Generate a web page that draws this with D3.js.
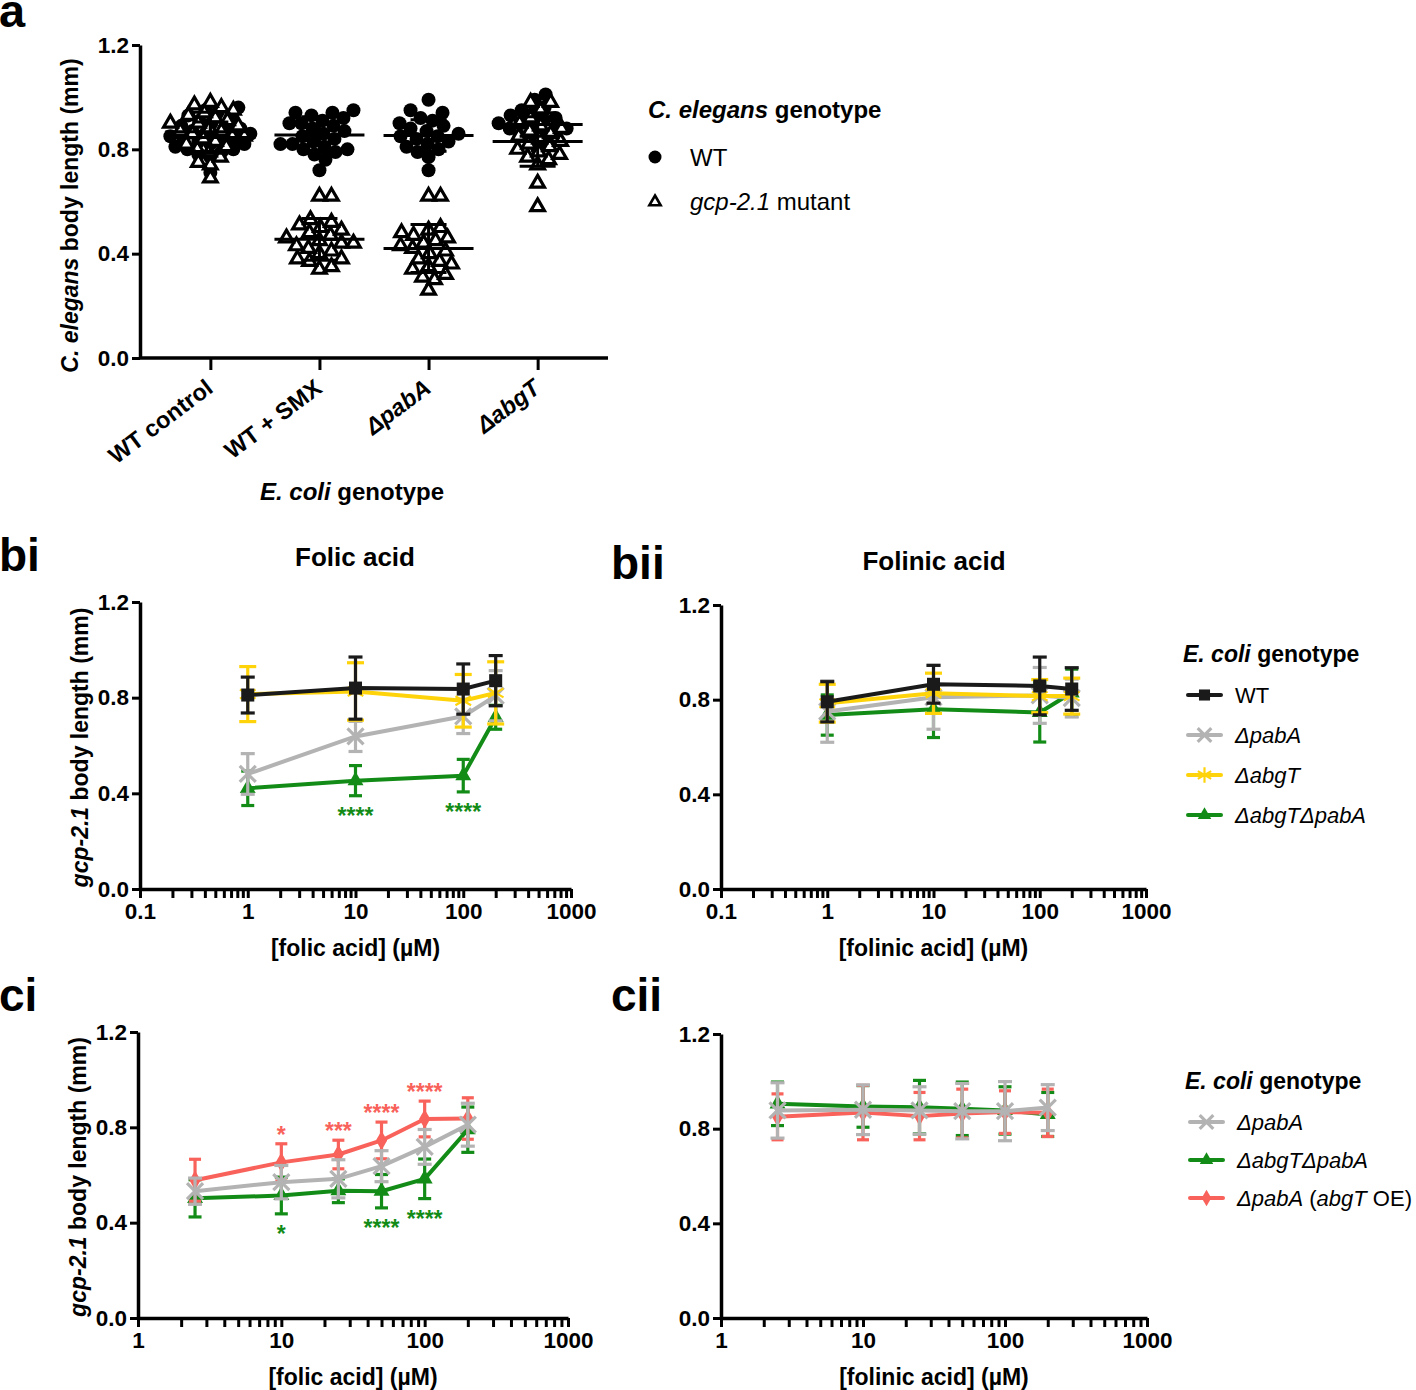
<!DOCTYPE html>
<html><head><meta charset="utf-8">
<script src="https://cdn.jsdelivr.net/npm/d3@7"></script>
<style>
body{margin:0;background:#fff}
svg{display:block;font-family:"Liberation Sans",Arial,Helvetica,sans-serif}
</style>
</head><body>
<svg id="fig" width="1416" height="1390"></svg>
<script>
// ================= DATA =================
// Panel a
const aCategories = ["WT control", "WT + SMX", "ΔpabA", "ΔabgT"];
const aCategoryLabels = ["WT control", "WT + SMX", "<i>ΔpabA</i>", "<i>ΔabgT</i>"];
const aYTicks = [0, 0.4, 0.8, 1.2];
const aWTControlWT  = [0.71,0.77,0.78,0.79,0.80,0.80,0.81,0.82,0.82,0.83,0.83,0.84,0.84,0.85,0.85,0.86,0.86,0.87,0.88,0.88,0.89,0.90,0.91,0.92,0.93,0.94,0.95,0.96];
const aWTControlMut = [0.69,0.74,0.75,0.77,0.79,0.80,0.81,0.82,0.83,0.84,0.85,0.85,0.86,0.87,0.87,0.88,0.89,0.90,0.90,0.91,0.92,0.93,0.94,0.95,0.96,0.97,0.98];
const aSMXWT  = [0.72,0.76,0.78,0.79,0.80,0.80,0.81,0.82,0.82,0.83,0.84,0.85,0.86,0.87,0.88,0.89,0.90,0.90,0.91,0.92,0.93,0.94,0.94,0.95];
const aSMXMut = [0.34,0.35,0.37,0.38,0.38,0.40,0.41,0.42,0.43,0.44,0.44,0.45,0.46,0.47,0.48,0.49,0.50,0.51,0.52,0.53,0.62,0.62];
const aPabAWT  = [0.72,0.77,0.79,0.80,0.81,0.82,0.83,0.84,0.85,0.85,0.86,0.87,0.88,0.89,0.90,0.91,0.92,0.94,0.95,0.99];
const aPabAMut = [0.26,0.30,0.31,0.32,0.34,0.35,0.36,0.37,0.38,0.40,0.41,0.42,0.43,0.44,0.45,0.46,0.47,0.48,0.49,0.50,0.62,0.62];
const aAbgTWT  = [0.80,0.82,0.84,0.85,0.86,0.87,0.88,0.88,0.89,0.90,0.90,0.91,0.92,0.93,0.94,0.95,0.96,0.99,1.01];
const aAbgTMut = [0.58,0.67,0.74,0.76,0.77,0.78,0.79,0.80,0.81,0.82,0.83,0.84,0.85,0.86,0.87,0.88,0.89,0.90,0.92,0.95,0.98,0.98];
const aWTMean  = [0.845, 0.855, 0.853, 0.895];
const aWTSD    = [0.060, 0.070, 0.060, 0.045];
const aMutMean = [0.867, 0.455, 0.420, 0.830];
const aMutSD   = [0.075, 0.080, 0.092, 0.095];

// Panel b (folic / folinic acid)
const bConc = [1, 10, 100, 200];
const bXTicks = [0.1, 1, 10, 100, 1000];
const bXTickLabels = ["0.1", "1", "10", "100", "1000"];
const biWT = [0.811, 0.840, 0.836, 0.871],      biWTsd = [0.075, 0.130, 0.105, 0.105];
const biPabA = [0.481, 0.638, 0.722, 0.808],    biPabAsd = [0.085, 0.063, 0.072, 0.105];
const biAbgT = [0.815, 0.826, 0.787, 0.820],    biAbgTsd = [0.115, 0.120, 0.110, 0.130];
const biDouble = [0.421, 0.453, 0.474, 0.718],  biDoublesd = [0.072, 0.063, 0.068, 0.050];
const biiWT = [0.791, 0.865, 0.858, 0.845],     biiWTsd = [0.085, 0.080, 0.122, 0.090];
const biiPabA = [0.750, 0.810, 0.818, 0.807],   biiPabAsd = [0.130, 0.135, 0.118, 0.080];
const biiAbgT = [0.785, 0.827, 0.815, 0.815],   biiAbgTsd = [0.080, 0.085, 0.070, 0.076];
const biiDouble = [0.735, 0.760, 0.746, 0.829], biiDoublesd = [0.085, 0.120, 0.125, 0.100];
const biStars = [
  {series: "ΔabgTΔpabA", conc: 10, label: "****", side: "below"},
  {series: "ΔabgTΔpabA", conc: 100, label: "****", side: "below"}
];

// Panel c
const cConc = [2.5, 10, 25, 50, 100, 200];
const cXTicks = [1, 10, 100, 1000];
const cXTickLabels = ["1", "10", "100", "1000"];
const ciPabA = [0.532, 0.570, 0.584, 0.637, 0.718, 0.811],   ciPabAsd = [0.055, 0.070, 0.080, 0.065, 0.073, 0.090];
const ciDouble = [0.502, 0.514, 0.534, 0.532, 0.584, 0.790], ciDoublesd = [0.078, 0.077, 0.050, 0.070, 0.083, 0.095];
const ciOE = [0.578, 0.653, 0.686, 0.745, 0.835, 0.837],     ciOEsd = [0.088, 0.078, 0.060, 0.077, 0.075, 0.087];
const ciiPabA = [0.877, 0.880, 0.877, 0.874, 0.874, 0.889],   ciiPabAsd = [0.117, 0.105, 0.100, 0.117, 0.125, 0.097];
const ciiDouble = [0.905, 0.894, 0.891, 0.884, 0.877, 0.860], ciiDoublesd = [0.092, 0.088, 0.113, 0.113, 0.100, 0.093];
const ciiOE = [0.850, 0.868, 0.853, 0.864, 0.870, 0.867],     ciiOEsd = [0.097, 0.115, 0.100, 0.103, 0.090, 0.100];
const ciStars = [
  {series: "ΔpabA (abgT OE)", conc: 10, label: "*", side: "above"},
  {series: "ΔpabA (abgT OE)", conc: 25, label: "***", side: "above"},
  {series: "ΔpabA (abgT OE)", conc: 50, label: "****", side: "above"},
  {series: "ΔpabA (abgT OE)", conc: 100, label: "****", side: "above"},
  {series: "ΔabgTΔpabA", conc: 10, label: "*", side: "below"},
  {series: "ΔabgTΔpabA", conc: 50, label: "****", side: "below"},
  {series: "ΔabgTΔpabA", conc: 100, label: "****", side: "below"}
];
const lineYTicks = [0, 0.4, 0.8, 1.2];
const bLegend = ["WT", "ΔpabA", "ΔabgT", "ΔabgTΔpabA"];
const cLegend = ["ΔpabA", "ΔabgTΔpabA", "ΔpabA (abgT OE)"];
const legendLabels = {"WT": "WT", "ΔpabA": "<i>ΔpabA</i>", "ΔabgT": "<i>ΔabgT</i>",
  "ΔabgTΔpabA": "<i>ΔabgTΔpabA</i>", "ΔpabA (abgT OE)": "<i>ΔpabA</i> (<i>abgT</i> OE)"};

// ================= STYLE =================
const styles = {
  "WT":              {color: "#1a1a1a", symbol: "square",   cap: 7},
  "ΔpabA":           {color: "#b3b3b3", symbol: "times",    cap: 7},
  "ΔabgT":           {color: "#ffd30a", symbol: "asterisk", cap: 8.5},
  "ΔabgTΔpabA":      {color: "#138c17", symbol: "triangle", cap: 6.5},
  "ΔpabA (abgT OE)": {color: "#f8625a", symbol: "diamond",  cap: 6}
};
const FONT = '"Liberation Sans", Arial, Helvetica, sans-serif';
const TICK_FS = 22.5;
const svg = d3.select("#fig");

function rich(sel, str) {
  str.split(/(<i>.*?<\/i>)/).forEach(p => {
    if (!p) return;
    const it = p.startsWith("<i>");
    sel.append("tspan").attr("font-style", it ? "italic" : null).text(it ? p.slice(3, -4) : p);
  });
  return sel;
}

function styleAxis(g, fs) {
  g.selectAll("path.domain").attr("stroke", "#000").attr("stroke-width", 3.5);
  g.selectAll(".tick line").attr("stroke", "#000").attr("stroke-width", 3);
  g.selectAll(".tick text").attr("font-size", fs).attr("font-weight", "bold")
    .attr("fill", "#000").attr("font-family", FONT);
}

function drawSymbol(g, type, color, cx, cy, k = 1) {
  let s;
  if (type === "square") {
    s = g.append("path").attr("d", d3.symbol(d3.symbolSquare, 170 * k * k)()).attr("fill", color);
  } else if (type === "triangle") {
    s = g.append("path").attr("d", d3.symbol(d3.symbolTriangle, 110 * k * k)()).attr("fill", color);
  } else if (type === "diamond") {
    s = g.append("path").attr("d", d3.symbol(d3.symbolDiamond, 110 * k * k)()).attr("fill", color);
  } else if (type === "times") {
    const sym = d3.symbolTimes || d3.symbolX;
    s = g.append("path").attr("d", d3.symbol(sym, 170 * k * k)()).attr("fill", "none")
      .attr("stroke", color).attr("stroke-width", 3.2);
  } else if (type === "asterisk") {
    s = g.append("path").attr("d", d3.symbol(d3.symbolAsterisk, 230 * k * k)()).attr("fill", "none")
      .attr("stroke", color).attr("stroke-width", 2.2);
  }
  s.attr("transform", `translate(${cx},${cy})`);
}

// ================= PANEL A =================
(function panelA() {
  const box = {left: 140, right: 608, top: 45, bottom: 358};
  const g = svg.append("g");
  const x = d3.scalePoint().domain(aCategories).range([box.left, box.right]).padding(0.645);
  const y = d3.scaleLinear().domain([0, 1.2]).range([box.bottom, box.top]);

  g.append("g").attr("transform", `translate(${box.left},0)`)
    .call(d3.axisLeft(y).tickValues(aYTicks).tickFormat(d3.format(".1f")).tickSize(8).tickSizeOuter(0).tickPadding(3))
    .call(styleAxis, TICK_FS);
  const xa = g.append("g").attr("transform", `translate(0,${box.bottom})`)
    .call(d3.axisBottom(x).tickSize(12).tickSizeOuter(0).tickFormat(""));
  styleAxis(xa, TICK_FS);
  xa.select("path.domain").attr("d", `M${box.left},0H${box.right}`);

  aCategories.forEach((c, i) => {
    const t = g.append("text").attr("text-anchor", "end").attr("font-size", 23.5).attr("font-weight", "bold")
      .attr("transform", `translate(${x(c) + 4},${box.bottom + 33}) rotate(-37)`);
    rich(t, aCategoryLabels[i]);
  });

  function swarm(vals, d, maxHalf) {
    const idx = vals.map((v, i) => i).sort((a, b) => vals[a] - vals[b]);
    const placed = [], out = new Array(vals.length);
    idx.forEach(i => {
      const yy = y(vals[i]);
      let best = 0, bestScore = -Infinity, done = false;
      for (let s = 0; s <= maxHalf && !done; s += 1) {
        for (const sign of (s === 0 ? [1] : (i % 2 ? [1, -1] : [-1, 1]))) {
          const xx = s * sign;
          let minD = Infinity;
          for (const p of placed) { const dd = Math.hypot(p.x - xx, p.y - yy); if (dd < minD) minD = dd; }
          if (minD >= d) { best = xx; done = true; break; }
          if (minD > bestScore) { bestScore = minD; best = xx; }
        }
      }
      placed.push({x: best, y: yy}); out[i] = best;
    });
    return out;
  }

  const wtGroups = [aWTControlWT, aSMXWT, aPabAWT, aAbgTWT];
  const mutGroups = [aWTControlMut, aSMXMut, aPabAMut, aAbgTMut];
  wtGroups.forEach((vals, i) => {
    const off = swarm(vals, 12, 40);
    g.append("g").selectAll("circle").data(vals).join("circle")
      .attr("cx", (d, j) => x(aCategories[i]) + off[j]).attr("cy", d => y(d)).attr("r", 7).attr("fill", "#000");
  });
  mutGroups.forEach((vals, i) => {
    const off = swarm(vals, 12, 40);
    const gg = g.append("g");
    vals.forEach((v, j) => {
      gg.append("path").attr("d", d3.symbol(d3.symbolTriangle, 80)())
        .attr("transform", `translate(${x(aCategories[i]) + off[j]},${y(v)})`)
        .attr("fill", "#fff").attr("stroke", "#000").attr("stroke-width", 3.2);
    });
  });
  // mean ± SD
  function meanSD(means, sds) {
    const gg = g.append("g").attr("stroke", "#000").attr("stroke-width", 3);
    aCategories.forEach((c, i) => {
      const cx = x(c);
      gg.append("line").attr("x1", cx - 45).attr("x2", cx + 45).attr("y1", y(means[i])).attr("y2", y(means[i]));
      gg.append("line").attr("x1", cx).attr("x2", cx).attr("y1", y(means[i] - sds[i])).attr("y2", y(means[i] + sds[i]));
      [means[i] - sds[i], means[i] + sds[i]].forEach(v =>
        gg.append("line").attr("x1", cx - 18).attr("x2", cx + 18).attr("y1", y(v)).attr("y2", y(v)));
    });
  }
  meanSD(aWTMean, aWTSD);
  meanSD(aMutMean, aMutSD);

  // titles
  rich(g.append("text").attr("font-size", 23).attr("font-weight", "bold").attr("text-anchor", "middle")
    .attr("transform", `translate(${box.left - 70},${(box.top + box.bottom) / 2 + 14}) rotate(-90)`)
    .attr("dominant-baseline", "central"), "<i>C. elegans</i> body length (mm)");
  rich(g.append("text").attr("font-size", 24).attr("font-weight", "bold").attr("text-anchor", "middle")
    .attr("x", 352).attr("y", 500), "<i>E. coli</i> genotype");
  g.append("text").attr("x", -1).attr("y", 27).attr("font-size", 47).attr("font-weight", "bold").text("a");

  // legend
  const lg = g.append("g");
  rich(lg.append("text").attr("x", 648).attr("y", 118).attr("font-size", 24).attr("font-weight", "bold"),
    "<i>C. elegans</i> genotype");
  lg.append("circle").attr("cx", 655).attr("cy", 157).attr("r", 6.5).attr("fill", "#000");
  lg.append("text").attr("x", 690).attr("y", 157).attr("dominant-baseline", "central").attr("font-size", 24).text("WT");
  lg.append("path").attr("d", d3.symbol(d3.symbolTriangle, 55)()).attr("transform", "translate(655,202)")
    .attr("fill", "#fff").attr("stroke", "#000").attr("stroke-width", 2.6);
  rich(lg.append("text").attr("x", 690).attr("y", 201).attr("dominant-baseline", "central").attr("font-size", 24),
    "<i>gcp-2.1</i> mutant");
})();

// ================= LINE PANELS =================
function linePanel(o) {
  const g = svg.append("g");
  const x = d3.scaleLog().domain(o.xDomain).range([o.left, o.right]);
  const y = d3.scaleLinear().domain([0, 1.2]).range([o.bottom, o.top]);
  const e0 = Math.round(Math.log10(o.xDomain[0])), e1 = Math.round(Math.log10(o.xDomain[1]));
  const allTicks = [];
  for (let e = e0; e < e1; e++) for (let k = 1; k < 10; k++) allTicks.push(k * Math.pow(10, e));
  allTicks.push(o.xDomain[1]);
  const fmt = d => {
    const i = o.xTicks.findIndex(v => Math.abs(v - d) < 1e-6 * v);
    return i >= 0 ? o.xTickLabels[i] : "";
  };
  g.append("g").attr("transform", `translate(0,${o.bottom})`)
    .call(d3.axisBottom(x).tickValues(allTicks).tickFormat(fmt).tickSize(9).tickSizeOuter(0).tickPadding(5))
    .call(styleAxis, TICK_FS);
  g.append("g").attr("transform", `translate(${o.left},0)`)
    .call(d3.axisLeft(y).tickValues(lineYTicks).tickFormat(d3.format(".1f")).tickSize(8).tickSizeOuter(0).tickPadding(3))
    .call(styleAxis, TICK_FS);

  const ptsOf = {};
  o.series.forEach(s => {
    const st = styles[s.name];
    const pts = o.conc.map((c, i) => ({c, m: s.mean[i], s: s.sd[i]}));
    ptsOf[s.name] = pts;
    const sg = g.append("g");
    const eb = sg.append("g").attr("stroke", st.color).attr("stroke-width", 3.2);
    pts.forEach(p => {
      const cx = x(p.c);
      eb.append("line").attr("x1", cx).attr("x2", cx).attr("y1", y(p.m - p.s)).attr("y2", y(p.m + p.s));
      [p.m - p.s, p.m + p.s].forEach(v =>
        eb.append("line").attr("x1", cx - st.cap).attr("x2", cx + st.cap).attr("y1", y(v)).attr("y2", y(v)));
    });
    sg.append("path").datum(pts).attr("fill", "none").attr("stroke", st.color).attr("stroke-width", 4)
      .attr("stroke-linejoin", "round")
      .attr("d", d3.line().x(d => x(d.c)).y(d => y(d.m)));
    pts.forEach(p => drawSymbol(sg, st.symbol, st.color, x(p.c), y(p.m)));
  });

  (o.stars || []).forEach(st => {
    const p = ptsOf[st.series].find(q => q.c === st.conc);
    const cy = st.side === "above" ? y(p.m + p.s) - 14 : y(p.m - p.s) + 15;
    g.append("text").attr("x", x(p.c)).attr("y", cy + 13).attr("text-anchor", "middle")
      .attr("font-size", 23).attr("font-weight", "bold").attr("fill", styles[st.series].color).text(st.label);
  });

  rich(g.append("text").attr("x", (o.left + o.right) / 2).attr("y", o.bottom + 67).attr("text-anchor", "middle")
    .attr("font-size", 23).attr("font-weight", "bold"), o.xTitle);
  if (o.yTitle) {
    rich(g.append("text").attr("font-size", 23).attr("font-weight", "bold").attr("text-anchor", "middle")
      .attr("dominant-baseline", "central")
      .attr("transform", `translate(${o.left - 60},${(o.top + o.bottom) / 2 + 2}) rotate(-90)`), o.yTitle);
  }
  if (o.title) {
    g.append("text").attr("x", o.titleX).attr("y", o.titleY).attr("text-anchor", "middle")
      .attr("font-size", 26).attr("font-weight", "bold").text(o.title);
  }
  g.append("text").attr("x", o.letterX).attr("y", o.letterY).attr("font-size", 46).attr("font-weight", "bold").text(o.letter);
}

function legend(x0, y0, titleY, names, step) {
  const g = svg.append("g");
  rich(g.append("text").attr("x", x0 - 2).attr("y", titleY).attr("font-size", 23).attr("font-weight", "bold"),
    "<i>E. coli</i> genotype");
  names.forEach((n, i) => {
    const st = styles[n], yy = y0 + i * step;
    g.append("line").attr("x1", x0 + 3).attr("x2", x0 + 36).attr("y1", yy).attr("y2", yy)
      .attr("stroke", st.color).attr("stroke-width", 4).attr("stroke-linecap", "round");
    drawSymbol(g, st.symbol, st.color, x0 + 19.5, yy, 0.85);
    rich(g.append("text").attr("x", x0 + 50).attr("y", yy).attr("dominant-baseline", "central")
      .attr("font-size", 22), legendLabels[n]);
  });
}

const bOrder = (wt, wtsd, pa, pasd, ab, absd, db, dbsd) => [
  {name: "ΔabgTΔpabA", mean: db, sd: dbsd},
  {name: "ΔpabA", mean: pa, sd: pasd},
  {name: "ΔabgT", mean: ab, sd: absd},
  {name: "WT", mean: wt, sd: wtsd}
];

linePanel({left: 140, right: 571, top: 602, bottom: 889, xDomain: [0.1, 1000], xTicks: bXTicks, xTickLabels: bXTickLabels,
  conc: bConc, series: bOrder(biWT, biWTsd, biPabA, biPabAsd, biAbgT, biAbgTsd, biDouble, biDoublesd),
  stars: biStars, xTitle: "[folic acid] (µM)", yTitle: "<i>gcp-2.1</i> body length (mm)",
  title: "Folic acid", titleX: 355, titleY: 566, letter: "bi", letterX: -1, letterY: 571});

linePanel({left: 721, right: 1146, top: 605, bottom: 889, xDomain: [0.1, 1000], xTicks: bXTicks, xTickLabels: bXTickLabels,
  conc: bConc, series: bOrder(biiWT, biiWTsd, biiPabA, biiPabAsd, biiAbgT, biiAbgTsd, biiDouble, biiDoublesd),
  xTitle: "[folinic acid] (µM)", title: "Folinic acid", titleX: 934, titleY: 570,
  letter: "bii", letterX: 611, letterY: 579});

const cOrder = (pa, pasd, db, dbsd, oe, oesd) => [
  {name: "ΔabgTΔpabA", mean: db, sd: dbsd},
  {name: "ΔpabA (abgT OE)", mean: oe, sd: oesd},
  {name: "ΔpabA", mean: pa, sd: pasd}
];

linePanel({left: 138, right: 568, top: 1032, bottom: 1318, xDomain: [1, 1000], xTicks: cXTicks, xTickLabels: cXTickLabels,
  conc: cConc, series: cOrder(ciPabA, ciPabAsd, ciDouble, ciDoublesd, ciOE, ciOEsd),
  stars: ciStars, xTitle: "[folic acid] (µM)", yTitle: "<i>gcp-2.1</i> body length (mm)",
  letter: "ci", letterX: -1, letterY: 1011});

linePanel({left: 721, right: 1147, top: 1034, bottom: 1318, xDomain: [1, 1000], xTicks: cXTicks, xTickLabels: cXTickLabels,
  conc: cConc, series: cOrder(ciiPabA, ciiPabAsd, ciiDouble, ciiDoublesd, ciiOE, ciiOEsd),
  xTitle: "[folinic acid] (µM)", letter: "cii", letterX: 611, letterY: 1011});

legend(1185, 695, 662, bLegend, 40);
legend(1187, 1122, 1089, cLegend, 38);
</script>
</body></html>
